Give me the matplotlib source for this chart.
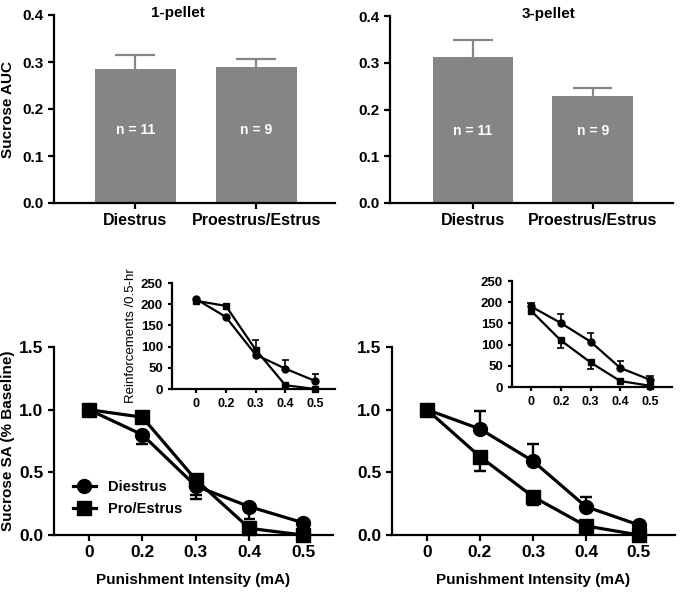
import numpy as np
import matplotlib
matplotlib.use("Agg")
import matplotlib.pyplot as plt
from matplotlib.lines import Line2D

plt.rcParams.update({
    "font.family": ["Liberation Sans", "DejaVu Sans"],
    "font.weight": "bold",
    "axes.linewidth": 1.6,
    "xtick.major.width": 1.6,
    "ytick.major.width": 1.6,
    "xtick.major.size": 4,
    "ytick.major.size": 4,
})

# --- top panels: sucrose AUC bars ---
groups = ["Diestrus", "Proestrus/Estrus"]
n_labels = ["n = 11", "n = 9"]
auc_1pellet = [0.285, 0.289]
auc_1pellet_err = [0.030, 0.017]
auc_3pellet = [0.312, 0.228]
auc_3pellet_err = [0.037, 0.018]

# --- bottom panels: punishment curves ---
intensity = ["0", "0.2", "0.3", "0.4", "0.5"]

# 1-pellet, % baseline (one-sided SEM: negative = drawn below)
p1_di = [1.0, 0.80, 0.39, 0.226, 0.098]
p1_di_err = [0.0, -0.07, -0.10, -0.096, 0.0]
p1_pe = [1.0, 0.94, 0.44, 0.053, 0.0]
p1_pe_err = [0.0, 0.0, -0.12, 0.0, 0.0]
# 1-pellet, reinforcements
r1_di = [212, 170, 81, 48, 19]
r1_di_err = [0, 0, 0, 21, 17]
r1_pe = [208, 196, 93, 9, 0]
r1_pe_err = [0, 0, 22, 0, 0]

# 3-pellet, % baseline
p3_di = [1.0, 0.846, 0.59, 0.226, 0.08]
p3_di_err = [0.0, 0.144, 0.14, 0.074, 0.0]
p3_pe = [1.0, 0.625, 0.306, 0.072, 0.0]
p3_pe_err = [0.0, -0.115, -0.066, 0.0, 0.0]
# 3-pellet, reinforcements
r3_di = [190, 151, 107, 45, 17]
r3_di_err = [7, 22, 21, 17, 8]
r3_pe = [180, 110, 58, 14, 3]
r3_pe_err = [0, -18, -15, 0, 0]

W, H = 681, 593
fig = plt.figure(figsize=(W / 100, H / 100), dpi=100)


def box(x0, y_top, x1, y_bot):
    return [x0 / W, 1 - y_bot / H, (x1 - x0) / W, (y_bot - y_top) / H]


def style(ax, fs_x, fs_y=None):
    for s in ("top", "right"):
        ax.spines[s].set_visible(False)
    ax.tick_params(axis="x", labelsize=fs_x)
    ax.tick_params(axis="y", labelsize=fs_y or fs_x)
    for lab in ax.get_xticklabels() + ax.get_yticklabels():
        lab.set_fontweight("bold")


def one_sided(ax, x, y, err, color, lw, half):
    # GraphPad style: vertical line from the mean, single cap at its end
    for xi, yi, e in zip(x, y, err):
        if e == 0:
            continue
        ax.plot([xi, xi], [yi, yi + e], color=color, lw=lw,
                solid_capstyle="butt", clip_on=False, zorder=1)
        ax.plot([xi - half, xi + half], [yi + e, yi + e], color=color,
                lw=lw, solid_capstyle="butt", clip_on=False, zorder=1)


def bar_panel(rect, vals, errs, title, title_x, xlim):
    ax = fig.add_axes(rect)
    x = np.arange(len(groups))
    ax.bar(x, vals, width=0.67, color="#858585", zorder=2)
    one_sided(ax, x, vals, errs, "#858585", 1.6, 0.165)
    for xi, lab in zip(x, n_labels):
        ax.text(xi, 0.155, lab, color="white", ha="center", va="center",
                fontsize=10, fontweight="bold", zorder=3)
    ax.set_xticks(x)
    ax.set_xticklabels(groups)
    ax.set_xlim(*xlim)
    ax.set_ylim(0, 0.4)
    ax.set_yticks([0, 0.1, 0.2, 0.3, 0.4])
    ax.set_yticklabels(["0.0", "0.1", "0.2", "0.3", "0.4"])
    ax.text(title_x, 0.405, title, ha="center", va="center",
            fontsize=11, fontweight="bold")
    style(ax, 11.5, 11)
    return ax


ax_tl = bar_panel(box(54, 15, 335, 203), auc_1pellet, auc_1pellet_err,
                  "1-pellet", 0.35, (-0.67, 1.65))
ax_tl.set_ylabel("Sucrose AUC", fontsize=11, fontweight="bold")
ax_tl.yaxis.set_label_coords(-0.14, 0.5)
bar_panel(box(390, 16, 673, 203), auc_3pellet, auc_3pellet_err,
          "3-pellet", 0.63, (-0.69, 1.67))


def curve(ax, y, err, marker, ms, lw, half):
    x = np.arange(len(intensity))
    one_sided(ax, x, y, err, "black", lw * 0.75, half)
    ax.plot(x, y, color="black", lw=lw, marker=marker, ms=ms,
            clip_on=False, zorder=3)


def main_panel(rect, xlim, d, d_err, p, p_err):
    ax = fig.add_axes(rect)
    curve(ax, d, d_err, "o", 10, 2.3, 0.11)
    curve(ax, p, p_err, "s", 10, 2.3, 0.11)
    ax.set_xticks(range(len(intensity)))
    ax.set_xticklabels(intensity)
    ax.set_xlim(*xlim)
    ax.set_ylim(0, 1.5)
    ax.set_yticks([0, 0.5, 1.0, 1.5])
    ax.set_yticklabels(["0.0", "0.5", "1.0", "1.5"])
    ax.set_xlabel("Punishment Intensity (mA)", fontsize=11,
                  fontweight="bold", labelpad=9)
    style(ax, 12.5, 12.5)
    return ax


def inset_panel(rect, xlim, d, d_err, p, p_err):
    ax = fig.add_axes(rect)
    ax.patch.set_alpha(0)
    curve(ax, d, d_err, "o", 5, 1.6, 0.12)
    curve(ax, p, p_err, "s", 5, 1.6, 0.12)
    ax.set_xticks(range(len(intensity)))
    ax.set_xticklabels(intensity)
    ax.set_xlim(*xlim)
    ax.set_ylim(0, 250)
    ax.set_yticks([0, 50, 100, 150, 200, 250])
    style(ax, 9, 9.5)
    ax.tick_params(length=3)
    return ax


ax_bl = main_panel(box(54, 347, 333, 535), (-0.65, 4.56),
                   p1_di, p1_di_err, p1_pe, p1_pe_err)
ax_bl.set_ylabel("Sucrose SA (% Baseline)", fontsize=11, fontweight="bold")
ax_bl.yaxis.set_label_coords(-0.14, 0.5)
handles = [Line2D([], [], color="black", lw=2.3, marker="o", ms=10),
           Line2D([], [], color="black", lw=2.3, marker="s", ms=10)]
ax_bl.legend(handles, ["Diestrus", "Pro/Estrus"], loc="lower left",
             bbox_to_anchor=(0.02, 0.03), frameon=False, handlelength=1.6,
             prop={"size": 10.5, "weight": "bold"}, labelspacing=0.55)

main_panel(box(392, 347, 675, 535), (-0.66, 4.68),
           p3_di, p3_di_err, p3_pe, p3_pe_err)

ax_il = inset_panel(box(172, 283, 335, 389), (-0.81, 4.67),
                    r1_di, r1_di_err, r1_pe, r1_pe_err)
ax_il.set_ylabel("Reinforcements /0.5-hr", fontsize=9.5,
                 fontweight="normal", labelpad=3)
inset_panel(box(512, 281, 672, 387), (-0.64, 4.74),
            r3_di, r3_di_err, r3_pe, r3_pe_err)

fig.savefig("out.png", dpi=100)
